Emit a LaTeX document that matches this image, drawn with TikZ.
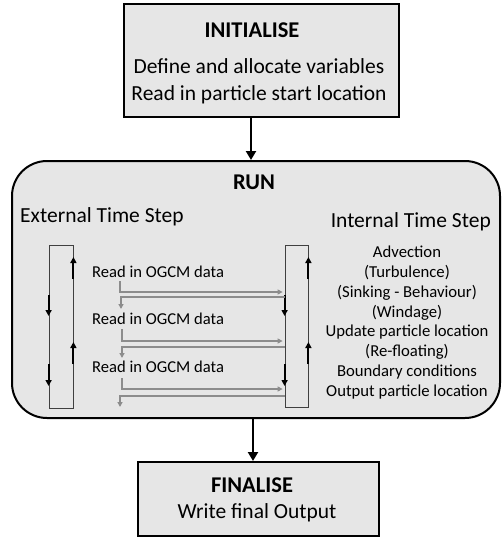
\documentclass[tikz,border=0pt]{standalone}
\usepackage{fontspec}
\setmainfont{Carlito}
\usetikzlibrary{arrows.meta,calc}
\definecolor{boxfill}{HTML}{E6E6E6}
\definecolor{garrow}{HTML}{8C8C8C}
\definecolor{loopline}{HTML}{404040}
\begin{document}
\begin{tikzpicture}[x=1pt,y=-1pt,
  box/.style={draw=black, line width=2pt, fill=boxfill, inner sep=0pt},
  mainarrow/.style={line width=2.5pt, -{Triangle[length=9pt,width=10pt]}},
  loopbox/.style={draw=loopline, line width=0.8pt, inner sep=0pt},
  blk/.style={line width=2pt, -{Triangle[length=6pt,width=6pt]}},
  gr/.style={draw=garrow, line width=1.4pt, -{Triangle[length=5pt,width=5pt]}},
  big/.style={font=\fontsize{22.5}{26}\selectfont\bfseries, inner sep=0pt},
  mid/.style={font=\fontsize{21.5}{27}\selectfont, inner sep=0pt, align=center},
  small/.style={font=\fontsize{16.7}{19.8}\selectfont, inner sep=0pt, align=center},
  readtxt/.style={font=\fontsize{16.6}{19}\selectfont, inner sep=0pt, anchor=west},
  ]
\useasboundingbox (0,0) rectangle (502,538);
% boxes
\node[box, minimum width=275pt, minimum height=113pt] (init) at (261.5,60.5) {};
\node[box, rounded corners=35pt, minimum width=488pt, minimum height=257pt] (run) at (256,289.5) {};
\node[box, minimum width=241pt, minimum height=74pt] (fin) at (258.5,499) {};
% titles and texts
\node[big] (tinit) at (252,30) {INITIALISE};
\node[mid] (dinit) at (259,81.5) {Define and allocate variables\\Read in particle start location};
\node[big] (trun) at (254,182) {RUN};
\node[big] (tfin) at (252,485) {FINALISE};
\node[mid] (dfin) at (257,513) {Write final Output};
\node[mid, anchor=west] (ext) at (20,217) {External Time Step};
\node[mid, anchor=east] (intl) at (491,222) {Internal Time Step};
\node[small] (steps) at (407,322.5) {Advection\\(Turbulence)\\(Sinking - Behaviour)\\(Windage)\\Update particle location\\(Re-floating)\\Boundary conditions\\Output particle location};
% main arrows
\draw[mainarrow] (init.south -| 251,0) -- (run.north -| 251,0);
\draw[mainarrow] (run.south -| 253,0) -- (fin.north -| 253,0);
% loop rectangles
\node[loopbox, minimum width=24pt, minimum height=163pt] (extbox) at (61,326.5) {};
\node[loopbox, minimum width=23pt, minimum height=162pt] (intbox) at (296.5,326) {};
% black loop arrows
\foreach \b in {extbox,intbox}{
  \draw[blk] (\b.east |- 0,279) -- (\b.east |- 0,257);
  \draw[blk] (\b.east |- 0,364) -- (\b.east |- 0,342);
  \draw[blk] (\b.west |- 0,295) -- (\b.west |- 0,316);
  \draw[blk] (\b.west |- 0,364) -- (\b.west |- 0,386);
}
% read in OGCM data
\node[readtxt] (r1) at (92,272) {Read in OGCM data};
\node[readtxt] (r2) at (92,319) {Read in OGCM data};
\node[readtxt] (r3) at (92,367) {Read in OGCM data};
\coordinate (s1) at (120,281);
\coordinate (s2) at (122,329);
\coordinate (s3) at (122,378);
\draw[gr] (s1) |- ($(intbox.west |- 0,292)+(-2,0)$);
\draw[gr] (intbox.west |- 0,297) -| (121,309);
\draw[gr] (s2) |- ($(intbox.west |- 0,341)+(-2,0)$);
\draw[gr] (intbox.west |- 0,347) -| (122,358);
\draw[gr] (s3) |- ($(intbox.west |- 0,389)+(-2,0)$);
\draw[gr] (intbox.west |- 0,396) -| (120,407);
\end{tikzpicture}
\end{document}
